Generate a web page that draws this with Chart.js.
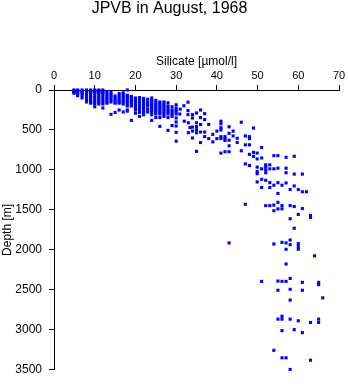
<!DOCTYPE html>
<html>
<head>
<meta charset="utf-8">
<script src="https://cdn.jsdelivr.net/npm/chart.js@4/dist/chart.umd.min.js"></script>
<style>
  html, body { margin: 0; padding: 0; background: #fff; }
  canvas { display: block; }
</style>
</head>
<body>
<canvas id="grafica" width="348" height="384"></canvas>
<script>
// ===============================
// DATOS (silicato µmol/l, profundidad m)
// ===============================

// capa superficial: cada valor de silicato con varias profundidades (columnas)
const columnSilicate = [4.9, 5.8, 6.9, 8, 9, 10, 11, 12, 13, 14, 15, 16, 17, 18,
  19, 20, 21, 22, 23, 24, 25, 26, 27, 28, 29, 30];
const columnDepths = [
  [0, 10, 20, 30, 40],
  [0, 10, 20, 30, 50, 70],
  [0, 10, 20, 30, 50, 75, 100],
  [0, 10, 20, 30, 50, 75, 100, 125, 150],
  [0, 10, 20, 30, 50, 75, 100, 125, 150, 165],
  [0, 10, 20, 30, 50, 75, 100, 125, 150, 175, 210],
  [0, 10, 20, 30, 50, 75, 100, 125, 150, 175],
  [0, 10, 20, 30, 50, 75, 100, 125, 150, 175, 225],
  [25, 50, 75, 100, 125, 150, 165],
  [25, 50, 75, 100, 125, 150, 305],
  [75, 100, 125, 150, 165, 280],
  [45, 75, 100, 125, 150, 165, 250],
  [35, 50, 75, 100, 125, 150, 175, 275],
  [0, 65, 75, 100, 125, 150, 175, 200, 250, 265],
  [80, 100, 125, 150, 175, 200, 380],
  [100, 125, 150, 175, 200, 225, 250, 290],
  [95, 125, 150, 175, 200, 225, 250, 280, 330],
  [105, 125, 150, 175, 200, 225, 250, 275, 310],
  [115, 150, 175, 200, 240, 275],
  [100, 125, 150, 175, 200, 225, 250, 275, 310, 380],
  [130, 150, 175, 200, 225, 250, 275, 300, 345],
  [150, 175, 200, 225, 250, 275, 300, 345, 455],
  [150, 175, 200, 225, 250, 275, 300, 330],
  [160, 200, 225, 250, 275, 300, 345, 505],
  [210, 250, 275, 300, 330, 445],
  [185, 225, 250, 275, 300, 350, 400, 450, 530, 640]
];

// termoclina: puntos sueltos
const midPoints = [
  [30.9, 300], [31, 240], [31.9, 197], [32, 390], [32.9, 152], [32.9, 258], [32.9, 308],
  [33, 410], [33.4, 470], [33, 534],
  [34, 308], [34, 350], [34, 464], [34, 514], [34, 600],
  [35, 287], [35, 410], [35, 456], [35, 496], [35, 534], [35, 768],
  [36, 250], [36, 345], [36, 431], [36, 526], [36, 657],
  [37, 296], [37, 370], [37, 526], [37, 583],
  [38, 431], [38, 608], [39, 555], [39, 649], [40, 514], [40, 608],
  [41, 390], [41, 423], [41, 472], [41, 501], [41, 583], [41, 608], [41, 789],
  [42, 583], [42, 610], [42, 632], [42, 772],
  [43, 460], [43, 542], [43, 628], [43, 698], [43, 772],
  [44, 514], [44, 575], [45, 604], [45, 657], [46, 403], [46, 760],
  [47, 575], [47, 686], [47, 924],
  [48, 583], [48, 608], [48, 686], [48, 805], [48, 945],
  [49, 476], [49, 780], [49, 830]
];

// aguas intermedias 700-1300 m
const lowerPoints = [
  [49.9, 789], [49.9, 862], [49.9, 965], [49.9, 1019], [49.9, 1047], [49.9, 1150],
  [51, 719], [51, 850], [51, 986], [51, 1117], [51, 1220],
  [52, 936], [52, 965], [52, 1000], [52, 1035], [52, 1130],
  [53, 936], [53, 986], [53, 1159], [53, 1220],
  [54, 821], [54, 986], [54, 1191],
  [55, 821], [55, 978], [55, 1159], [55, 1294],
  [56, 1191], [57, 842], [57, 978], [57, 1035], [57, 1163],
  [58, 1245], [59, 829], [59, 1052], [59, 1200], [60, 1245],
  [61, 1052], [61, 1273], [62, 1273]
];

// aguas profundas
const deepPoints = [
  [47, 1430], [52, 1446], [53, 1446], [54, 1440], [55, 1405], [56, 1446], [56, 1487],
  [54, 1510], [55, 1487], [58, 1446], [59, 1458], [61, 1483], [60, 1557], [58, 1610],
  [63, 1570], [63, 1595], [59, 1729],
  [43, 1913], [54, 1926], [56, 1906], [57, 1913], [57, 1992], [58, 1877], [58, 1935],
  [60, 1922], [60, 1960], [60, 1992], [64, 2074], [57, 2177],
  [51, 2394], [55, 2390], [56, 2394], [57, 2394], [58, 2357], [61, 2406], [65, 2406], [65, 2435],
  [55, 2505], [58, 2493], [61, 2505], [66, 2600], [58, 2628],
  [56, 2830], [55, 2866], [56, 2866], [58, 2866], [60, 2887], [63, 2908], [65, 2866], [65, 2908],
  [56, 3010], [59, 2998], [61, 3035],
  [54, 3256], [56, 3350], [57, 3350], [63, 3380], [58, 3495]
];

// Ejes
const silicateTicks = { min: 0, max: 70, step: 10 };
const depthTicks = { min: 0, max: 3500, step: 500 };

// ===============================
// ARMAR PUNTOS
// ===============================
const puntos = [];
columnSilicate.forEach((s, i) => {
  columnDepths[i].forEach(d => puntos.push({ x: s, y: d }));
});
[...midPoints, ...lowerPoints, ...deepPoints].forEach(([s, d]) => puntos.push({ x: s, y: d }));

const fuente = "'Liberation Sans', Arial, Helvetica, sans-serif";

// ===============================
// GRÁFICA
// ===============================
new Chart(document.getElementById("grafica"), {
  type: "scatter",
  data: {
    datasets: [{
      data: puntos,
      pointStyle: "rect",
      pointRadius: 2.2,
      pointBorderWidth: 0,
      borderWidth: 0,
      backgroundColor: "#0000ff",
      borderColor: "#0000ff",
      clip: false
    }]
  },
  options: {
    responsive: false,
    animation: false,
    layout: { padding: { left: 0, right: 9, top: 0, bottom: 10 } },
    plugins: {
      legend: { display: false },
      tooltip: { enabled: false },
      title: {
        display: true,
        text: "JPVB in August, 1968",
        color: "#000",
        font: { family: fuente, size: 16, weight: "normal", lineHeight: 1 },
        padding: { top: 1, bottom: 0 }
      }
    },
    scales: {
      x: {
        type: "linear",
        position: "top",
        min: silicateTicks.min,
        max: silicateTicks.max,
        ticks: {
          stepSize: silicateTicks.step, color: "#000", padding: 2,
          font: { family: fuente, size: 11 },
          callback: v => String(v)
        },
        grid: { drawOnChartArea: false, tickLength: 5, color: "#000", lineWidth: 1 },
        border: { color: "#000", width: 1 },
        title: {
          display: true,
          text: "Silicate [µmol/l]",
          color: "#000",
          font: { family: fuente, size: 12 },
          padding: { top: 37, bottom: 0 }
        },
        afterFit: s => { s.height = 73; }
      },
      y: {
        type: "linear",
        reverse: true,
        min: depthTicks.min,
        max: depthTicks.max,
        ticks: {
          stepSize: depthTicks.step, color: "#000", padding: 7,
          font: { family: fuente, size: 12 },
          callback: v => String(v)
        },
        grid: { drawOnChartArea: false, tickLength: 5, color: "#000", lineWidth: 1 },
        border: { color: "#000", width: 1 },
        title: {
          display: true,
          text: "Depth [m]",
          color: "#000",
          font: { family: fuente, size: 12 },
          padding: { top: 0, bottom: 0 }
        },
        afterFit: s => { s.width = 54; }
      }
    }
  }
});
</script>
</body>
</html>
